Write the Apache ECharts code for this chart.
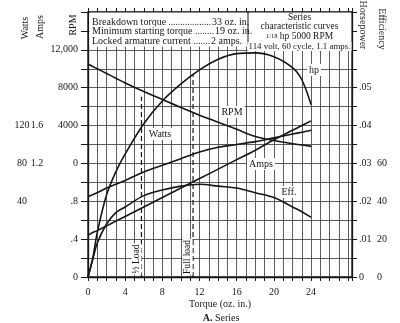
<!DOCTYPE html>
<html><head><meta charset="utf-8">
<script src="https://cdn.jsdelivr.net/npm/echarts@6/dist/echarts.min.js"></script>
<style>html,body{margin:0;padding:0;background:#fff}#c{width:400px;height:323px}</style>
</head><body><div id="c"></div>
<script>
// ---- data ----
const torque = [0, 0.5, 1, 2, 3, 4, 6, 8, 10, 12, 14, 16, 18, 20, 22, 23, 24];
const rpm    = [10500, 10250, 10000, 9500, 9000, 8500, 7600, 6750, 5900, 5100, 4350, 3600, 2850, 2420, 2080, 1950, 1800];
const watts  = [45, 47, 49, 54, 58, 62, 71, 78, 85, 92, 97, 100, 103, 107, 111, 113, 115];
const amps   = [0.44, 0.47, 0.49, 0.54, 0.59, 0.64, 0.74, 0.84, 0.94, 1.04, 1.14, 1.24, 1.34, 1.45, 1.55, 1.60, 1.65];
const hp     = [0, 0.0049, 0.0118, 0.0217, 0.0278, 0.0325, 0.0405, 0.0465, 0.0510, 0.0547, 0.0575, 0.0590, 0.0592, 0.0582, 0.0553, 0.0521, 0.0455];
const eff    = [0, 9, 18, 28, 34, 37, 43, 46, 48, 49, 48, 47, 44.5, 42, 37, 34.5, 31.5];
const loadTorque = [5.75, 11.3];          // ½ load, full load
const loadTopHp  = [0.0476, 0.0537];      // top of the dashed marker lines (hp scale)
const loadNames  = ['½ Load', 'Full load'];

const xTickLabels     = ['0', '4', '8', '12', '16', '20', '24'];
const xTickValues     = [0, 4, 8, 12, 16, 20, 24];
const rpmTickValues   = [0, 4000, 8000, 12000];
const rpmTickLabels   = ['0', '4000', '8000', '12,000'];
const ampsTickValuesA = [0, 0.4, 0.8];
const ampsTickLabelsA = ['0', '.4', '.8'];
const ampsTickValuesB = [1.2, 1.6];
const ampsTickLabelsB = ['1.2', '1.6'];
const wattsTickValues = [40, 80, 120];
const wattsTickLabels = ['40', '80', '120'];
const hpTickValues    = [0, 0.01, 0.02, 0.03, 0.04, 0.05];
const hpTickLabels    = ['0', '.01', '.02', '.03', '.04', '.05'];
const effTickValues   = [0, 20, 40, 60];
const effTickLabels   = ['0', '20', '40', '60'];
const specLines  = ['Breakdown torque', 'Minimum starting torque', 'Locked armature current'];
const specValues = ['33 oz. in.', '19 oz. in.', '2 amps.'];

// ---- helpers ----
const FONT = '"Liberation Serif","DejaVu Serif",serif';
const INK = '#161616';
function pick(vals, labels) {
  return function (v) {
    for (let i = 0; i < vals.length; i++) if (Math.abs(v - vals[i]) < 1e-7) return labels[i];
    return '';
  };
}
function pairs(ys) { return torque.map((t, i) => [t, ys[i]]); }
const lblBase = { fontFamily: FONT, fontSize: 10, color: INK };
const hiddenAxis = { axisLine: { show: false, onZero: false }, axisTick: { show: false }, splitLine: { show: false } };

const chart = echarts.init(document.getElementById('c'), null, { renderer: 'canvas' });

const curve = (name, data, yi) => ({
  name, type: 'line', data: pairs(data), yAxisIndex: yi, smooth: 0.35,
  showSymbol: false, symbol: 'none', z: 4,
  lineStyle: { color: INK, width: 1.6 }, animation: false
});

const series = [
  curve('RPM', rpm, 0),
  curve('Amps', amps, 1),
  curve('Watts', watts, 3),
  curve('hp', hp, 4),
  curve('Eff.', eff, 5)
];
loadTorque.forEach((t, i) => {
  series.push({
    type: 'line', yAxisIndex: 4, data: [[t, 0], [t, loadTopHp[i]]], symbol: 'none',
    lineStyle: { color: INK, width: 1.2, type: [5, 3] }, z: 3, animation: false
  });
});

const graphics = [];
// top-left specification box
graphics.push({ type: 'rect', shape: { x: 89.5, y: 12.6, width: 158, height: 34 }, style: { fill: '#fff' }, z: 10 });
graphics.push({ type: 'rect', shape: { x: 248.6, y: 12.6, width: 102.6, height: 34 }, style: { fill: '#fff' }, z: 10 });
graphics.push({ type: 'line', shape: { x1: 248, y1: 12, x2: 248, y2: 45 }, style: { stroke: INK, lineWidth: 1 }, z: 11 });
const specX = [212, 215, 211];
specLines.forEach((s, i) => {
  const y = 22 + i * 9.6;
  graphics.push({ type: 'text', x: specX[i] - 1, y, z: 11,
    style: { text: '.'.repeat(50), font: '9.5px ' + FONT, fill: INK, textAlign: 'right', textVerticalAlign: 'middle' } });
  graphics.push({ type: 'text', x: 92, y, z: 12,
    style: { text: s, font: '10px ' + FONT, fill: INK, textAlign: 'left', textVerticalAlign: 'middle', backgroundColor: '#fff', padding: [0, 2, 0, 0] } });
  graphics.push({ type: 'text', x: specX[i], y, z: 12,
    style: { text: specValues[i], font: '10px ' + FONT, fill: INK, textAlign: 'left', textVerticalAlign: 'middle' } });
});
// title block
const titleLines = [
  { t: 'Series', y: 17, fs: 9.5 },
  { t: 'characteristic curves', y: 26.5, fs: 9.5 },
  { t: '{f|1/18} hp 5000 RPM', y: 36, fs: 9.5 },
  { t: '114 volt, 60 cycle, 1.1 amps.', y: 46.5, fs: 8.9, bg: true }
];
titleLines.forEach(o => {
  graphics.push({ type: 'text', x: 299.5, y: o.y, z: 12,
    style: { text: o.t, font: o.fs + 'px ' + FONT, fill: INK, textAlign: 'center', textVerticalAlign: 'middle',
      backgroundColor: o.bg ? '#fff' : null, padding: o.bg ? [0, 1] : 0,
      rich: { f: { fontSize: 6.5, fontFamily: FONT, fill: INK } } } });
});
// curve labels (white background)
const curveLabels = [
  { t: 'hp', x: 314, y: 70 }, { t: 'RPM', x: 232, y: 112 }, { t: 'Watts', x: 160, y: 134 },
  { t: 'Amps', x: 261, y: 164 }, { t: 'Eff.', x: 289, y: 192 }
];
curveLabels.forEach(o => {
  graphics.push({ type: 'text', x: o.x, y: o.y, z: 12,
    style: { text: o.t, font: '10px ' + FONT, fill: INK, textAlign: 'center', textVerticalAlign: 'middle',
      backgroundColor: '#fff', padding: [1, 2] } });
});
// load labels (rotated)
const loadLabelPos = [{ x: 136.5, y: 259 }, { x: 187.5, y: 257 }];
loadNames.forEach((n, i) => {
  graphics.push({ type: 'text', x: loadLabelPos[i].x, y: loadLabelPos[i].y, rotation: Math.PI / 2, z: 12,
    style: { text: n, font: '9.5px ' + FONT, fill: INK, textAlign: 'center', textVerticalAlign: 'middle',
      backgroundColor: '#fff', padding: [0, 1] } });
});
// axis titles
const axisTitles = [
  { t: 'Watts', x: 25, y: 28, r: Math.PI / 2 }, { t: 'Amps', x: 40, y: 27, r: Math.PI / 2 },
  { t: 'RPM', x: 73.5, y: 25, r: Math.PI / 2 },
  { t: 'Horsepower', x: 362.5, y: 25, r: -Math.PI / 2 }, { t: 'Efficiency', x: 381.5, y: 29, r: -Math.PI / 2 }
];
axisTitles.forEach(o => {
  graphics.push({ type: 'text', x: o.x, y: o.y, rotation: o.r, z: 12,
    style: { text: o.t, font: '10px ' + FONT, fill: INK, textAlign: 'center', textVerticalAlign: 'middle' } });
});
graphics.push({ type: 'text', x: 220, y: 304, z: 12,
  style: { text: 'Torque (oz. in.)', font: '10px ' + FONT, fill: INK, textAlign: 'center', textVerticalAlign: 'middle' } });
graphics.push({ type: 'text', x: 221, y: 318, z: 12,
  style: { text: '{b|A.} Series', font: '10px ' + FONT, fill: INK, textAlign: 'center', textVerticalAlign: 'middle',
    rich: { b: { fontWeight: 'bold', fontSize: 10, fontFamily: FONT, fill: INK } } } });

const edgeLine = { show: true, onZero: false, lineStyle: { color: INK, width: 1.3 } };
const option = {
  animation: false,
  backgroundColor: '#fff',
  grid: { left: 88, right: 48, top: 12, bottom: 46, show: true, borderColor: INK, borderWidth: 1.3, backgroundColor: 'transparent' },
  xAxis: [
    { type: 'value', min: 0, max: 28.4, interval: 1, position: 'bottom',
      axisLine: edgeLine,
      axisTick: { show: true, length: 4, lineStyle: { color: INK } },
      splitLine: { show: true, lineStyle: { color: '#4a4a4a', width: 0.9 } },
      axisLabel: Object.assign({ margin: 10, formatter: pick(xTickValues, xTickLabels) }, lblBase) },
    { type: 'value', min: 0, max: 28.4, interval: 1, position: 'top',
      axisLine: edgeLine,
      axisTick: { show: true, length: 4, lineStyle: { color: INK } },
      splitLine: { show: false }, axisLabel: { show: false } }
  ],
  yAxis: [
    { type: 'value', min: -12000, max: 16000, interval: 2000, position: 'left',
      axisLine: edgeLine,
      axisTick: { show: true, length: 7, lineStyle: { color: INK } },
      splitLine: { show: true, lineStyle: { color: '#4a4a4a', width: 0.9 } },
      axisLabel: Object.assign({ margin: 10, formatter: pick(rpmTickValues, rpmTickLabels) }, lblBase) },
    Object.assign({ type: 'value', min: 0, max: 2.8, interval: 0.4, position: 'left', offset: 0,
      axisLabel: Object.assign({ margin: 10, formatter: pick(ampsTickValuesA, ampsTickLabelsA) }, lblBase) }, hiddenAxis),
    Object.assign({ type: 'value', min: 0, max: 2.8, interval: 0.4, position: 'left', offset: 51,
      axisLabel: Object.assign({ margin: 0, align: 'center', formatter: pick(ampsTickValuesB, ampsTickLabelsB) }, lblBase) }, hiddenAxis),
    Object.assign({ type: 'value', min: -40, max: 240, interval: 40, position: 'left', offset: 66,
      axisLabel: Object.assign({ margin: 0, align: 'center', formatter: pick(wattsTickValues, wattsTickLabels) }, lblBase) }, hiddenAxis),
    { type: 'value', min: 0, max: 0.07, interval: 0.005, position: 'right',
      axisLine: edgeLine,
      axisTick: { show: true, length: 5, lineStyle: { color: INK } },
      splitLine: { show: false },
      axisLabel: Object.assign({ margin: 7, formatter: pick(hpTickValues, hpTickLabels) }, lblBase) },
    Object.assign({ type: 'value', min: 0, max: 140, interval: 20, position: 'right', offset: 18,
      axisLabel: Object.assign({ margin: 7, formatter: pick(effTickValues, effTickLabels) }, lblBase) }, hiddenAxis)
  ],
  series,
  graphic: { elements: graphics }
};
chart.setOption(option);
</script></body></html>
